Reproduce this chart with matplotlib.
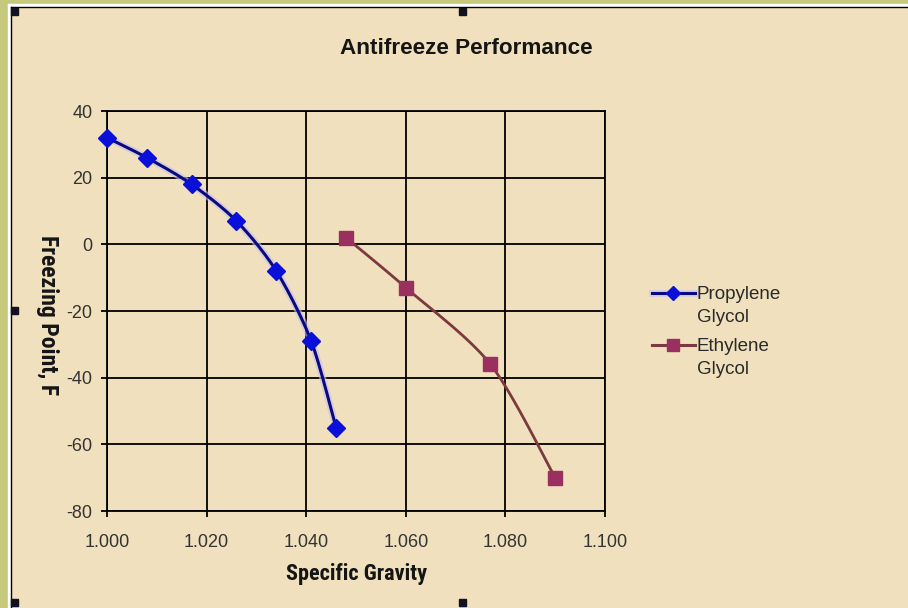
import numpy as np
import matplotlib
matplotlib.use("Agg")
import matplotlib.pyplot as plt
from matplotlib.patches import Rectangle
import matplotlib.patheffects as pe
from matplotlib import font_manager as fm

plt.rcParams["axes.unicode_minus"] = False

# ---- data ----
prop_sg = [1.000, 1.008, 1.017, 1.026, 1.034, 1.041, 1.046]
prop_fp = [32, 26, 18, 7, -8, -29, -55]
eth_sg = [1.048, 1.060, 1.077, 1.090]
eth_fp = [2, -13, -36, -70]
series_names = ["Propylene\nGlycol", "Ethylene\nGlycol"]
x_ticks = [1.000, 1.020, 1.040, 1.060, 1.080, 1.100]
x_ticklabels = ["1.000", "1.020", "1.040", "1.060", "1.080", "1.100"]
y_ticks = [-80, -60, -40, -20, 0, 20, 40]
title = "Antifreeze Performance"
xlabel = "Specific Gravity"
ylabel = "Freezing Point, F"

BG = "#F0E0BD"
OLIVE = "#C6C97C"
REG = ["Liberation Sans", "DejaVu Sans"]

names = {f.name for f in fm.fontManager.ttflist}
cond = None
for cand in ["Liberation Sans Narrow", "DejaVu Sans Condensed", "Roboto Condensed", "Open Sans Condensed"]:
    if cand in names:
        cond = cand
        break
CONDFAM = ([cond] if cond else []) + REG


def smooth(xs, ys, n=30, k=1 / 7):
    """Excel-like smoothed connecting line (cubic Bezier through the points)."""
    x = np.asarray(xs, float)
    y = np.asarray(ys, float)
    sx = 498 / 0.1
    sy = 400 / 120
    P = np.column_stack([x * sx, y * sy])
    P = np.vstack([P[0], P, P[-1]])
    out = []
    t = np.linspace(0, 1, n)[:, None]
    for i in range(1, len(P) - 2):
        p0, p1, p2, p3 = P[i - 1], P[i], P[i + 1], P[i + 2]
        c1 = p1 + (p2 - p0) * k
        c2 = p2 - (p3 - p1) * k
        seg = ((1 - t) ** 3) * p1 + 3 * ((1 - t) ** 2) * t * c1 + 3 * (1 - t) * t ** 2 * c2 + t ** 3 * p2
        out.append(seg if i == 1 else seg[1:])
    out = np.vstack(out)
    return out[:, 0] / sx, out[:, 1] / sy


W, H = 908, 608
fig = plt.figure(figsize=(9.08, 6.08), dpi=100)
fig.patch.set_facecolor(BG)


def fx(px):
    return px / W


def fy(py):
    return 1 - py / H


# outer frame
fig.patches.append(Rectangle((0, 0), fx(8), 1, transform=fig.transFigure, color=OLIVE, zorder=0))
fig.patches.append(Rectangle((0, fy(4)), 1, 4 / H, transform=fig.transFigure, color=OLIVE, zorder=0))
fig.patches.append(Rectangle((fx(8), 0), fx(2), fy(4), transform=fig.transFigure, color="white", zorder=0))
fig.patches.append(Rectangle((fx(8), fy(6)), 1, 2 / H, transform=fig.transFigure, color="white", zorder=0))
fig.lines.append(plt.Line2D([fx(10.5), fx(10.5)], [0, fy(6.5)], transform=fig.transFigure, color="black", lw=1))
fig.lines.append(plt.Line2D([fx(10.5), 1], [fy(6.5), fy(6.5)], transform=fig.transFigure, color="black", lw=1))
for hx, hy in [(14, 11), (463, 11), (14, 310), (14, 602), (463, 602)]:
    fig.patches.append(Rectangle((fx(hx - 3.5), fy(hy + 3.5)), 7 / W, 7 / H,
                                 transform=fig.transFigure, color="#111122", zorder=5))

ax = fig.add_axes([fx(107), fy(511), 498 / W, 400 / H])
ax.set_facecolor("none")
ax.set_xlim(1.000, 1.100)
ax.set_ylim(-80, 40)
ax.set_xticks(x_ticks)
ax.set_xticklabels(x_ticklabels)
ax.set_yticks(y_ticks)
ax.grid(True, color="black", lw=1.3)
for s in ax.spines.values():
    s.set_color("black")
    s.set_linewidth(1.3)
ax.tick_params(direction="out", length=4.5, width=1.3, color="black", labelsize=13,
               labelcolor="#333333")
ax.tick_params(axis="y", pad=6)
ax.tick_params(axis="x", pad=12)
for lab in ax.get_xticklabels() + ax.get_yticklabels():
    lab.set_family(REG)

PROP_LINE, PROP_MK = "#0A0A80", "#0A10D8"
ETH_LINE, ETH_MK = "#7A3A3E", "#9A3060"
glow = [pe.Stroke(linewidth=5, foreground="#C8C0F0", alpha=0.6), pe.Normal()]
sx, sy = smooth(prop_sg, prop_fp)
ax.plot(sx, sy, color=PROP_LINE, lw=2.2, path_effects=glow, zorder=3, clip_on=False)
ax.plot(prop_sg, prop_fp, ls="none", marker="D", ms=9, color=PROP_MK, mec=PROP_MK,
        zorder=4, clip_on=False)
ex, ey = smooth(eth_sg, eth_fp)
ax.plot(ex, ey, color=ETH_LINE, lw=2.0, zorder=3, clip_on=False)
ax.plot(eth_sg, eth_fp, ls="none", marker="s", ms=10, color=ETH_MK, mec=ETH_MK,
        zorder=4, clip_on=False)

# legend (handle aligned with the first text line, as in Excel)
leg_styles = [(PROP_LINE, PROP_MK, "D", 7, glow), (ETH_LINE, ETH_MK, "s", 8, None)]
for i, (name, (lc, mc, mk, ms, peff)) in enumerate(zip(series_names, leg_styles)):
    ly = 293 + i * 52
    fig.lines.append(plt.Line2D([fx(652), fx(695)], [fy(ly), fy(ly)], transform=fig.transFigure,
                                color=lc, lw=2.2, path_effects=peff))
    fig.lines.append(plt.Line2D([fx(673)], [fy(ly)], transform=fig.transFigure, ls="none",
                                marker=mk, ms=ms, mfc=mc, mec=mc))
    fig.text(fx(697), fy(ly - 7), name, ha="left", va="top", fontsize=13.5, family=REG,
             color="#2a2a2a", linespacing=1.48)

fig.text(fx(466), fy(49), title, ha="center", va="center", fontsize=16.2, fontweight="bold",
         family=REG, color="#151515")
fig.text(fx(356), fy(574), xlabel, ha="center", va="center", fontsize=16, fontweight="bold",
         family=CONDFAM, color="#151515")
fig.text(fx(47), fy(315), ylabel, ha="center", va="center", rotation=270, fontsize=17,
         fontweight="bold", family=CONDFAM, color="#151515")

fig.savefig("out.png", dpi=100, facecolor=fig.get_facecolor())
